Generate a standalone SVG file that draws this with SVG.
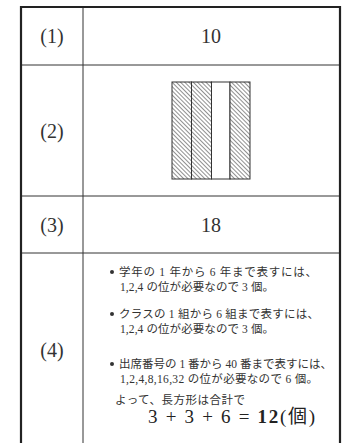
<svg xmlns="http://www.w3.org/2000/svg" width="342" height="443" viewBox="0 0 342 443">
<style>
.num{font-family:"Liberation Serif","DejaVu Serif",serif;font-size:20px;fill:#333;text-anchor:middle}
.jp{font-family:"Liberation Serif","Noto Sans CJK JP",serif;font-size:11.5px;fill:#333}
.grid{stroke:#333;stroke-width:1;fill:none}
.outer{stroke:#222;stroke-width:2.2;fill:none}
.box{stroke:#333;stroke-width:1;}
</style>
<defs>
<pattern id="hatch" patternUnits="userSpaceOnUse" width="3" height="3" patternTransform="rotate(-45)">
<rect width="3" height="3" fill="#fff"/>
<line x1="0" y1="0" x2="0" y2="3" stroke="#333" stroke-width="1.1"/>
</pattern>
</defs>
<rect width="342" height="443" fill="#fff"/>
<g id="table">
<line class="grid" x1="83" y1="7" x2="83" y2="443"/>
<line class="grid" x1="21" y1="65" x2="340" y2="65"/>
<line class="grid" x1="21" y1="196" x2="340" y2="196"/>
<line class="grid" x1="21" y1="253" x2="340" y2="253"/>
<path class="outer" d="M21 443 V7 H340 V443"/>
</g>
<g id="row1">
<text class="num" x="52" y="43">(1)</text>
<text class="num" x="211" y="43">10</text>
</g>
<g id="row2">
<text class="num" x="52" y="138">(2)</text>
<rect class="box" x="172" y="82" width="19.5" height="97" fill="url(#hatch)"/>
<rect class="box" x="191.5" y="82" width="20" height="97" fill="url(#hatch)"/>
<rect class="box" x="211.5" y="82" width="18.5" height="97" fill="#fff"/>
<rect class="box" x="230" y="82" width="20" height="97" fill="url(#hatch)"/>
</g>
<g id="row3">
<text class="num" x="52" y="232">(3)</text>
<text class="num" x="211" y="232">18</text>
</g>
<g id="row4">
<text class="num" x="52" y="357">(4)</text>
<circle cx="112" cy="272" r="2" fill="#333"/>
<text class="jp" x="119" y="276" textLength="198">学年の 1 年から 6 年まで表すには、</text>
<text class="jp" x="120" y="291" textLength="154">1,2,4 の位が必要なので 3 個。</text>
<circle cx="112" cy="314" r="2" fill="#333"/>
<text class="jp" x="119" y="318" textLength="200">クラスの 1 組から 6 組まで表すには、</text>
<text class="jp" x="120" y="333" textLength="154">1,2,4 の位が必要なので 3 個。</text>
<circle cx="112" cy="364" r="2" fill="#333"/>
<text class="jp" x="119" y="368" textLength="213">出席番号の 1 番から 40 番まで表すには、</text>
<text class="jp" x="120" y="383" textLength="198">1,2,4,8,16,32 の位が必要なので 6 個。</text>
<text class="jp" x="115" y="404" textLength="130">よって、長方形は合計で</text>
<text x="148" y="423" textLength="167" style="font-family:'Liberation Serif','Noto Sans CJK JP',serif;font-size:19px;fill:#222">3 + 3 + 6 = <tspan font-weight="bold">12</tspan>(個)</text>
</g>
</svg>
